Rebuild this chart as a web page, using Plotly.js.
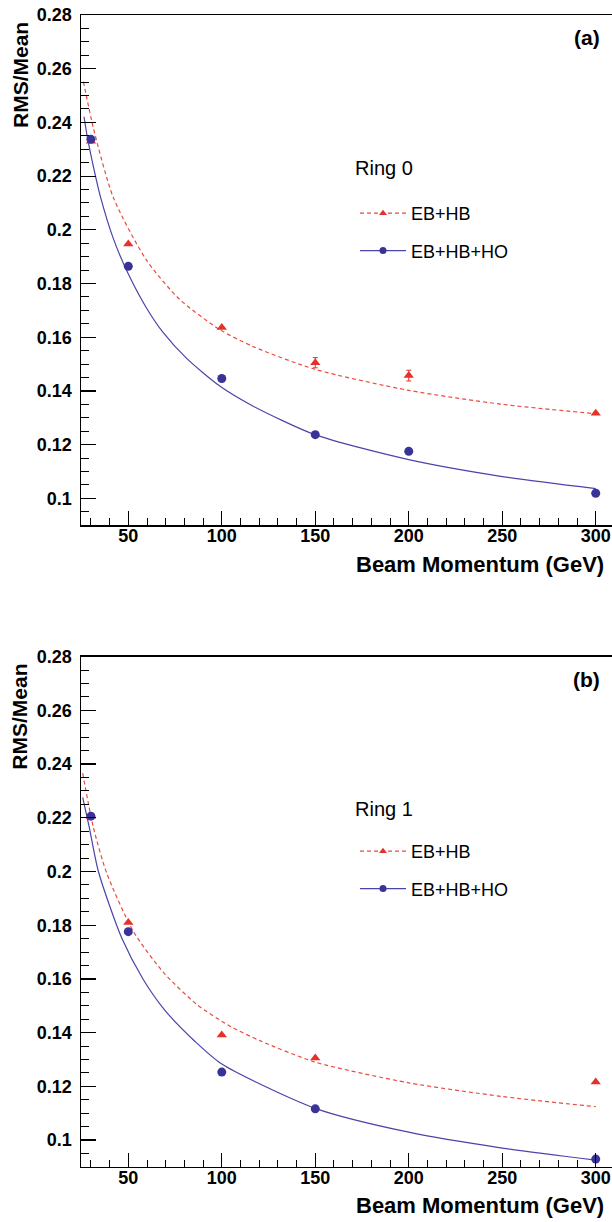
<!DOCTYPE html>
<html>
<head>
<meta charset="utf-8">
<script src="https://cdn.plot.ly/plotly-3.0.1.min.js"></script>
<style>html,body{margin:0;padding:0;background:#fff;}#chart{width:612px;height:1222px;}</style>
</head>
<body>
<div id="chart"></div>
<script>
// ---- data ----
const energies = [30, 50, 100, 150, 200, 300];
// panel (a) Ring 0
const ring0_ebhb = [0.2330, 0.1947, 0.1636, 0.1505, 0.1457, 0.1317];
const ring0_ebhb_err = [0, 0, 0, 0.0019, 0.0020, 0];
const ring0_ebhbho = [0.2337, 0.1864, 0.1446, 0.1237, 0.1175, 0.1019];
const ring0_fit_ebhb_x = [26, 31.3, 42, 59.8, 77.6, 99, 116.8, 150, 200, 250, 300];
const ring0_fit_ebhb_y = [0.2552, 0.2380, 0.2120, 0.1886, 0.1740, 0.1628, 0.1565, 0.1480, 0.1402, 0.1350, 0.1315];
const ring0_fit_ebhbho_x = [26.3, 28.1, 31.3, 34.9, 42, 49.7, 59.8, 68.7, 81.2, 99.1, 116.8, 149.8, 200, 250, 300];
const ring0_fit_ebhbho_y = [0.2421, 0.2345, 0.2236, 0.2128, 0.1967, 0.1840, 0.1708, 0.1617, 0.1521, 0.1417, 0.1343, 0.1237, 0.1144, 0.1081, 0.1036];
// panel (b) Ring 1
const ring1_energies = [30, 50, 100, 150, 300];
const ring1_ebhb = [0.2205, 0.1810, 0.1391, 0.1305, 0.1216];
const ring1_ebhbho = [0.2206, 0.1776, 0.1253, 0.1116, 0.0929];
const ring1_fit_ebhb_x = [25.6, 31.3, 38.4, 52.7, 68.7, 86.6, 104.4, 120.4, 150, 200, 250, 300];
const ring1_fit_ebhb_y = [0.2366, 0.2165, 0.1995, 0.1777, 0.1625, 0.1505, 0.1424, 0.1370, 0.1290, 0.1213, 0.1162, 0.1124];
const ring1_fit_ebhbho_x = [25.6, 29.1, 34, 46.5, 58, 69.6, 85.7, 100, 150, 200, 250, 300];
const ring1_fit_ebhbho_y = [0.2276, 0.2165, 0.2000, 0.1752, 0.1598, 0.1483, 0.1367, 0.1283, 0.1118, 0.1029, 0.0970, 0.0925];
// ticks / labels
const xTickVals = [50, 100, 150, 200, 250, 300];
const xTickText = ['50', '100', '150', '200', '250', '300'];
const yTickVals = [0.1, 0.12, 0.14, 0.16, 0.18, 0.2, 0.22, 0.24, 0.26, 0.28];
const yTickText = ['0.1', '0.12', '0.14', '0.16', '0.18', '0.2', '0.22', '0.24', '0.26', '0.28'];
const seriesNames = ['EB+HB', 'EB+HB+HO'];
const ringNames = ['Ring 0', 'Ring 1'];
const panelLabels = ['(a)', '(b)'];
const xTitle = 'Beam Momentum (GeV)';
const yTitle = 'RMS/Mean';

// ---- styles ----
const RED = '#e4312a', REDLINE = '#ea4a40', BLUE = '#3a3397', BLUELINE = '#4a44a8';
const FONT = 'Liberation Sans, Arial, sans-serif';
const W = 612, H = 1222;

function trSet(xa, ya, xs, ebhb, ebhbErr, ebhbho, fx1, fy1, fx2, fy2, leg) {
  return [
    {x: fx1, y: fy1, xaxis: xa, yaxis: ya, mode: 'lines', line: {color: REDLINE, width: 1.2, dash: '4px,3px', shape: 'spline', smoothing: 0.7}, showlegend: false, hoverinfo: 'skip'},
    {x: fx2, y: fy2, xaxis: xa, yaxis: ya, mode: 'lines', line: {color: BLUELINE, width: 1.2, shape: 'spline', smoothing: 0.7}, showlegend: false, hoverinfo: 'skip'},
    {x: xs, y: ebhb, xaxis: xa, yaxis: ya, mode: 'markers', marker: {symbol: 'triangle-up', size: 9, color: RED},
     error_y: ebhbErr ? {type: 'data', array: ebhbErr, visible: true, color: RED, thickness: 1, width: 2.5} : undefined, showlegend: false},
    {x: xs, y: ebhbho, xaxis: xa, yaxis: ya, mode: 'markers', marker: {symbol: 'circle', size: 9, color: BLUE}, showlegend: false},
    {x: [null], y: [null], xaxis: xa, yaxis: ya, name: seriesNames[0], legend: leg, legendgroup: leg + 'a', mode: 'lines+markers',
     line: {color: REDLINE, width: 1.2, dash: '4px,3px'}, marker: {symbol: 'triangle-up', size: 7, color: RED}},
    {x: [null], y: [null], xaxis: xa, yaxis: ya, name: seriesNames[1], legend: leg, legendgroup: leg + 'b', mode: 'lines+markers',
     line: {color: BLUELINE, width: 1.2}, marker: {symbol: 'circle', size: 7, color: BLUE}}
  ];
}

const data = [].concat(
  trSet('x', 'y', energies, ring0_ebhb, ring0_ebhb_err, ring0_ebhbho, ring0_fit_ebhb_x, ring0_fit_ebhb_y, ring0_fit_ebhbho_x, ring0_fit_ebhbho_y, 'legend'),
  trSet('x2', 'y2', ring1_energies, ring1_ebhb, null, ring1_ebhbho, ring1_fit_ebhb_x, ring1_fit_ebhb_y, ring1_fit_ebhbho_x, ring1_fit_ebhbho_y, 'legend2')
);

const tickFont = {family: FONT, size: 18, weight: 'bold', color: '#000'};
function xAxis(anchor) {
  return {domain: [81 / W, 1], range: [24.7, 308.7], anchor: anchor, showline: true, mirror: true, linecolor: '#000', linewidth: 1.5,
    ticks: 'inside', ticklen: 14, tickwidth: 1.2, tickcolor: '#000', tickmode: 'array', tickvals: xTickVals, ticktext: xTickText,
    minor: {tickmode: 'linear', tick0: 0, dtick: 10, ticks: 'inside', ticklen: 7, tickwidth: 1, tickcolor: '#000'},
    tickfont: tickFont, showgrid: false, zeroline: false, ticklabelstandoff: -6};
}
function yAxis(anchor, dom) {
  return {domain: dom, range: [0.09, 0.28], anchor: anchor, showline: true, linecolor: '#000', linewidth: 1.5,
    ticks: 'inside', ticklen: 15, tickwidth: 1.2, tickcolor: '#000', tickmode: 'array', tickvals: yTickVals, ticktext: yTickText,
    minor: {tickmode: 'linear', tick0: 0, dtick: 0.005, ticks: 'inside', ticklen: 8, tickwidth: 1, tickcolor: '#000'},
    tickfont: tickFont, showgrid: false, zeroline: false, ticklabelstandoff: 4};
}
const py = p => 1 - p / H;
const px = p => p / W;
const titleFont = {family: FONT, size: 21, weight: 'bold', color: '#000'};
const xTitleFont = {family: FONT, size: 22, weight: 'bold', color: '#000'};
const ann = [];
[[0, 0], [1, 641.7]].forEach(([i, off]) => {
  ann.push({xref: 'paper', yref: 'paper', x: px(606), y: py(564 + off), xanchor: 'right', yanchor: 'middle', text: xTitle, showarrow: false, font: xTitleFont});
  ann.push({xref: 'paper', yref: 'paper', x: px(20), y: py(20 + off), xanchor: 'center', yanchor: 'top', textangle: -90, text: yTitle, showarrow: false, font: titleFont});
  ann.push({xref: 'paper', yref: 'paper', x: px(602), y: py(38 + off), xanchor: 'right', yanchor: 'middle', text: panelLabels[i], showarrow: false, font: titleFont});
});
ann.push({xref: 'paper', yref: 'paper', x: px(353), y: py(168), xanchor: 'left', yanchor: 'middle', text: ringNames[0], showarrow: false, font: {family: FONT, size: 20, color: '#000'}});
ann.push({xref: 'paper', yref: 'paper', x: px(353), y: py(809), xanchor: 'left', yanchor: 'middle', text: ringNames[1], showarrow: false, font: {family: FONT, size: 20, color: '#000'}});

const legStyle = (ytop) => ({x: px(355), y: py(ytop), xanchor: 'left', yanchor: 'top', bgcolor: 'rgba(0,0,0,0)', borderwidth: 0,
  font: {family: FONT, size: 18, color: '#000'}, traceorder: 'grouped', tracegroupgap: 11, itemwidth: 46});

const layout = {
  width: W, height: H, margin: {l: 0, r: 0, t: 0, b: 0}, paper_bgcolor: '#fff', plot_bgcolor: '#fff',
  showlegend: true,
  xaxis: xAxis('y'), yaxis: yAxis('x', [py(525.15), py(15)]),
  xaxis2: xAxis('y2'), yaxis2: yAxis('x2', [py(1166.85), py(656.7)]),
  legend: legStyle(195), legend2: legStyle(833),
  annotations: ann
};
Plotly.newPlot('chart', data, layout, {staticPlot: true, displayModeBar: false});
</script>
</body>
</html>
